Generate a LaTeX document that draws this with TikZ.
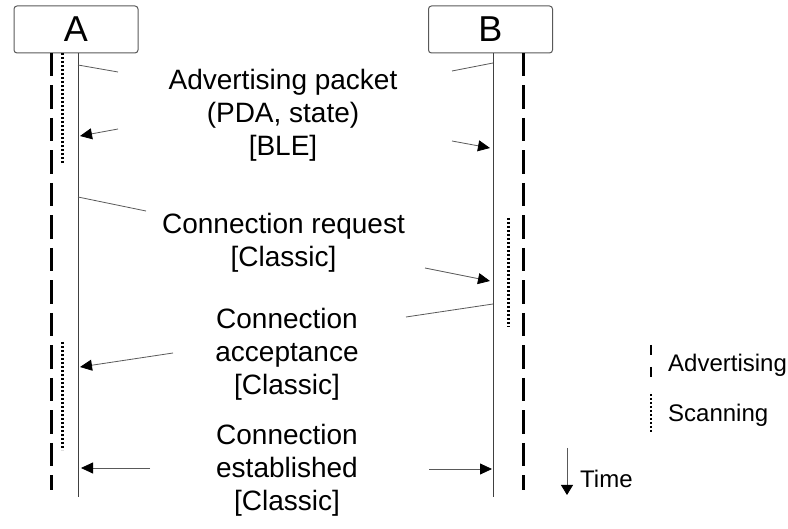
\documentclass[tikz,border=0pt]{standalone}
\usepackage{fontspec}
\setmainfont{Liberation Sans}
\usetikzlibrary{arrows.meta}
\tikzset{
	actor/.style={draw=black!65, line width=1pt, rounded corners=3pt, minimum width=124pt, minimum height=47pt, inner sep=0pt, font=\fontsize{36}{40}\selectfont},
	lifeline/.style={black!75, line width=0.9pt},
	advbar/.style={line width=3pt, dash pattern=on 23.5pt off 9pt},
	scanbar/.style={line width=3pt, dash pattern=on 2pt off 2pt},
	msg/.style={black!65, line width=0.8pt},
	msgarrow/.style={msg, -{Triangle[length=12pt,width=11pt,color=black]}},
	msgtext/.style={align=center, inner sep=0pt, font=\fontsize{28}{33}\selectfont},
	keytext/.style={anchor=base west, inner sep=0pt, font=\fontsize{24}{28}\selectfont}
}

\begin{document}
\begin{tikzpicture}[x=1pt,y=-1pt]
			\useasboundingbox (0,0) rectangle (788,529);
			\node[actor] (boxA) at (76,29.5) {A};
			\node[actor] (boxB) at (490.5,29.5) {B};
			\coordinate (topA) at (78,53);
			\coordinate (botA) at (78,497);
			\coordinate (topB) at (493,53);
			\coordinate (botB) at (493,497);
			\draw[lifeline] (topA) -- (botA);
			\draw[lifeline] (topB) -- (botB);
			
			\draw[advbar] (51,53) -- (51,490);
			\draw[scanbar] (62,53) -- (62,163);
			\draw[scanbar] (62,342) -- (62,450);
			\draw[advbar] (523,53) -- (523,490);
			\draw[scanbar] (508,218) -- (508,327);
			
			\node[msgtext] (adv) at (283,115) {Advertising packet\\(PDA, state)\\{[BLE]}};
			\node[msgtext] (req) at (283.5,243) {Connection request\\{[Classic]}};
			\node[msgtext] (acc) at (287,354) {Connection\\acceptance\\{[Classic]}};
			\node[msgtext] (est) at (287,470) {Connection\\established\\{[Classic]}};
			
			\coordinate (advA1) at (78,65);   \coordinate (advA2) at (118,72);
			\coordinate (advA3) at (452,141); \coordinate (advA4) at (490,148);
			\coordinate (advB1) at (493,63);  \coordinate (advB2) at (452,71);
			\coordinate (advB3) at (118,129); \coordinate (advB4) at (80,136);
			\draw[msg] (advA1) -- (advA2);
			\draw[msgarrow] (advA3) -- (advA4);
			\draw[msg] (advB1) -- (advB2);
			\draw[msgarrow] (advB3) -- (advB4);
			
			\coordinate (req1) at (78,197);  \coordinate (req2) at (146,211);
			\coordinate (req3) at (425,268); \coordinate (req4) at (490,281);
			\draw[msg] (req1) -- (req2);
			\draw[msgarrow] (req3) -- (req4);
			
			\coordinate (acc1) at (493,304); \coordinate (acc2) at (406,317);
			\coordinate (acc3) at (173,353); \coordinate (acc4) at (80,367);
			\draw[msg] (acc1) -- (acc2);
			\draw[msgarrow] (acc3) -- (acc4);
			
			\coordinate (estA1) at (150,468); \coordinate (estA2) at (81,468);
			\coordinate (estB1) at (429,469); \coordinate (estB2) at (492,469);
			\draw[msgarrow] (estA1) -- (estA2);
			\draw[msgarrow] (estB1) -- (estB2);
			
			\draw[line width=2pt, dash pattern=on 10pt off 12pt] (651,345) -- (651,377);
			\node[keytext] (keyadv) at (668,372) {Advertising};
			\draw[line width=2.5pt, dash pattern=on 2pt off 2pt] (651,394) -- (651,432);
			\node[keytext] (keyscan) at (668,422) {Scanning};
			\coordinate (time1) at (567,448); \coordinate (time2) at (567,495);
			\draw[msg, -{Triangle[length=10pt,width=12pt,color=black]}] (time1) -- (time2);
			\node[keytext] (keytime) at (580,488) {Time};
\end{tikzpicture}
\end{document}
